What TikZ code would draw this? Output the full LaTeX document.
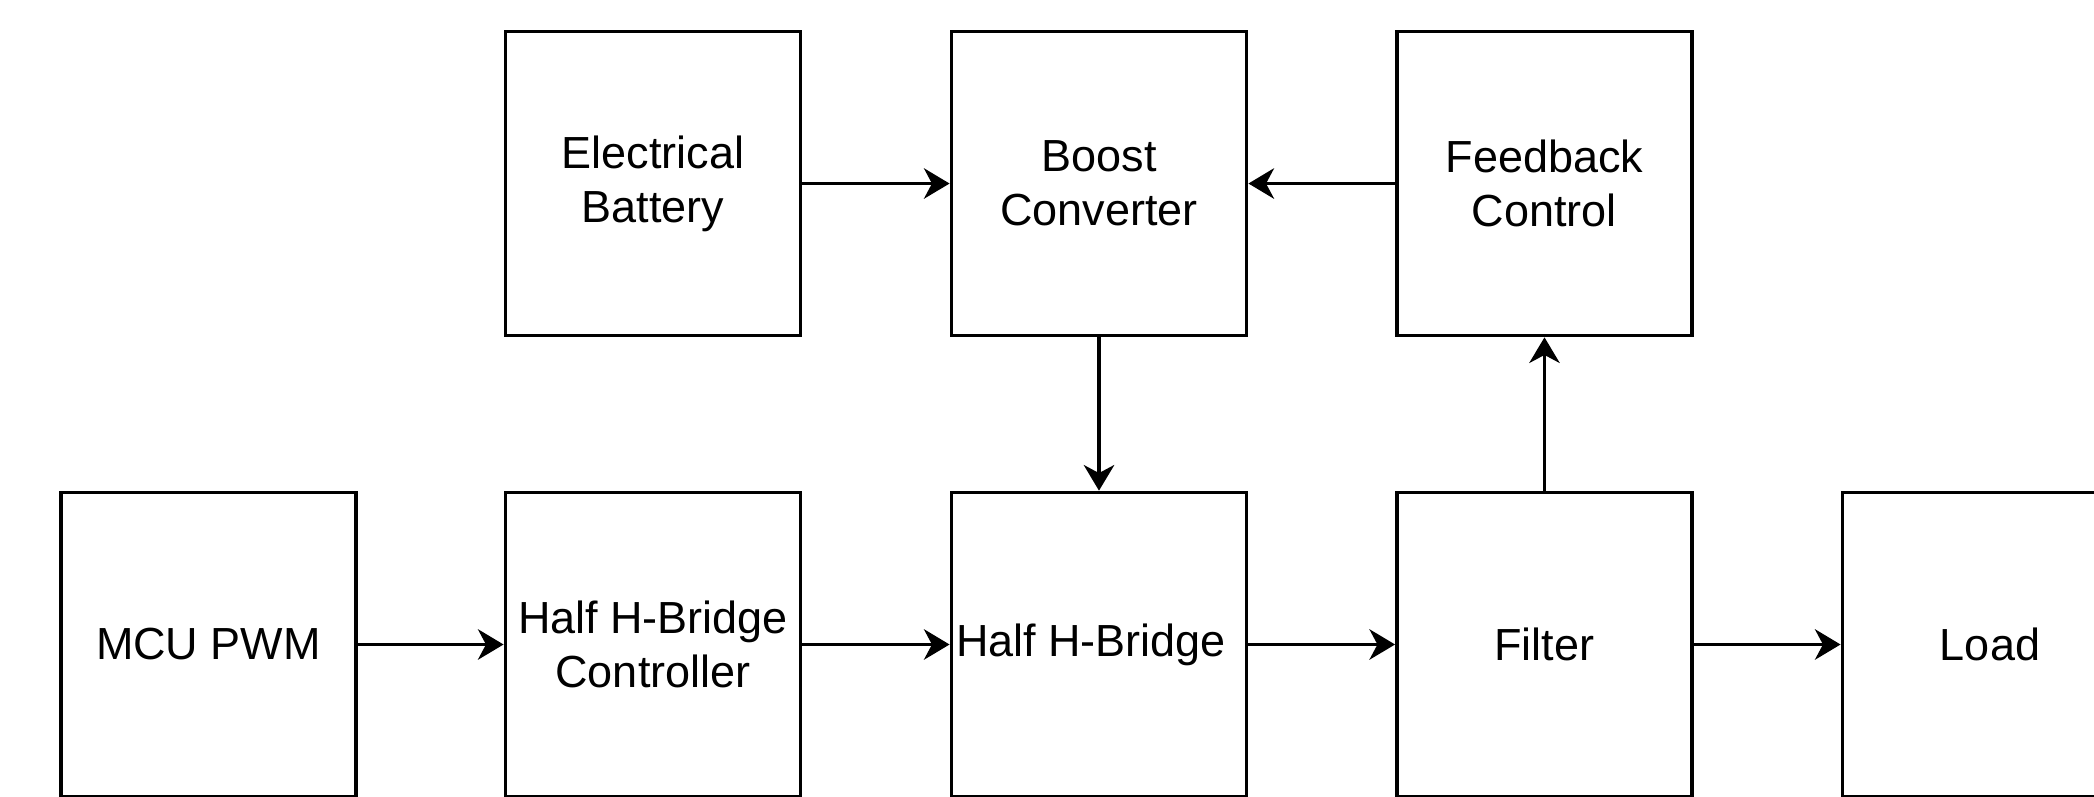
\documentclass[tikz,border=0pt]{standalone}
\usepackage{fontspec}
\setmainfont{Liberation Sans}
\usepackage{tikz}
\usetikzlibrary{arrows.meta}
\tikzset{every node/.style={font=\fontsize{16}{19.2}\selectfont}}
\colorlet{boxcol}{black}
\colorlet{linkcol}{black}
\colorlet{labelcol}{black}
\tikzset{blockbox/.style={draw=boxcol, line width=1.3pt, text=labelcol,
    minimum width=3.69cm, minimum height=3.8cm, inner sep=0pt, align=center}}
\tikzset{link/.style={->, line width=1.3pt, linkcol}}

\begin{document}
\begin{tikzpicture}[>={Stealth[length=0.32cm, width=0.38cm, inset=0.1cm]}]

  % Page frame (bottom row and Load box run off the edge).
  \useasboundingbox (0,0) rectangle (26.175,-9.95);
  \clip (0,0) rectangle (26.175,-9.95);

  % Upper row.
  \node[blockbox] (battery)  at (8.1625,-2.294) {Electrical\\Battery};
  \node[blockbox] (boost)    at (13.7375,-2.294) {Boost\\Converter};
  \node[blockbox] (feedback) at (19.306,-2.294) {Feedback\\Control};

  % Lower row.
  \node[blockbox] (mcu)    at (2.606,-8.056)   {MCU PWM};
  \node[blockbox] (driver) at (8.1625,-8.056)  {Half H-Bridge\\Controller};
  \node[blockbox] (bridge) at (13.7375,-8.056) {\hspace*{-0.2cm}Half H-Bridge};
  \node[blockbox] (filter) at (19.306,-8.056)  {Filter};
  \node[blockbox] (load)   at (24.875,-8.056)  {Load};

  % Power path.
  \draw[link] (battery) -- (boost);
  \draw[link] (boost) -- (bridge);
  \draw[link] (feedback) -- (boost);
  \draw[link] (filter) -- (feedback);

  % Signal chain.
  \draw[link] (mcu) -- (driver);
  \draw[link] (driver) -- (bridge);
  \draw[link] (bridge) -- (filter);
  \draw[link] (filter) -- (load);

\end{tikzpicture}
\end{document}
